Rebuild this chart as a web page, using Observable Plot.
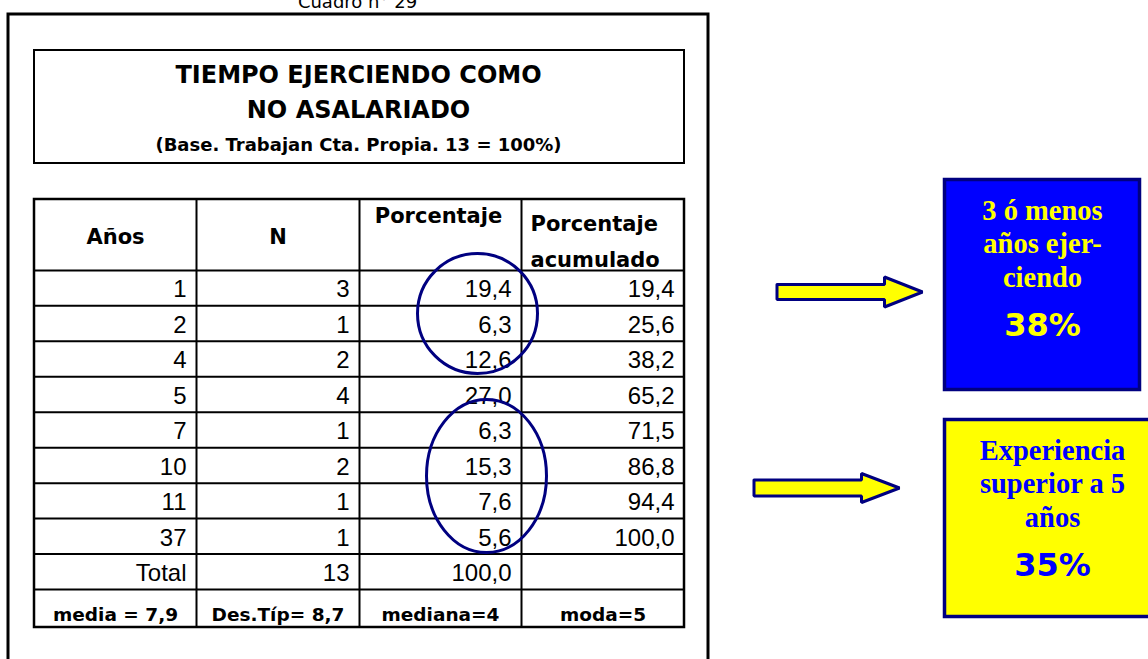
<!DOCTYPE html>
<html>
<head>
<meta charset="utf-8">
<script src="https://cdn.jsdelivr.net/npm/d3@7"></script>
<script src="https://cdn.jsdelivr.net/npm/@observablehq/plot@0.6"></script>
<style>
  html, body { margin: 0; padding: 0; background: #fff; overflow: hidden; }
  #chart svg { display: block; }
</style>
</head>
<body>
<div id="chart"></div>
<script>
// ---------------- DATA ----------------
const caption = "Cuadro n° 29";
const titleLines = ["TIEMPO EJERCIENDO COMO", "NO ASALARIADO"];
const subtitle = "(Base. Trabajan Cta. Propia. 13 = 100%)";
const headers = ["Años", "N", "Porcentaje", "Porcentaje\nacumulado"];
const years = ["1", "2", "4", "5", "7", "10", "11", "37"];
const counts = [3, 1, 2, 4, 1, 2, 1, 1];
const percents = [19.4, 6.3, 12.6, 27.0, 6.3, 15.3, 7.6, 5.6];
const cumulative = [19.4, 25.6, 38.2, 65.2, 71.5, 86.8, 94.4, 100.0];
const totalLabel = "Total";
const totalCount = 13;
const totalPercent = 100.0;
const stats = ["media = 7,9", "Des.Típ= 8,7", "mediana=4", "moda=5"];
const calloutLines = [["3 ó menos", "años ejer-", "ciendo"], ["Experiencia", "superior a 5", "años"]];
const calloutValues = ["38%", "35%"];

// ---------------- LAYOUT ----------------
const W = 1148, H = 659;
const colEdges = [34, 196, 359, 521, 684];
const rowY = d3.scaleLinear().domain([0, 11, 12]).range([199, 589, 627]); // header = 2 units
const frame = {x1: 8, x2: 708, y1: 14, y2: 720};
const titleBox = {x1: 34, x2: 684, y1: 50, y2: 163};
const titleX = 358;
const titleBaselines = [82, 117];
const subtitleBaseline = 150;
const captionPos = {x: 357, y: 7};
const headerLayout = [
  {x: (colEdges[0] + colEdges[1]) / 2, anchor: "middle", y: 243},
  {x: (colEdges[1] + colEdges[2]) / 2, anchor: "middle", y: 243},
  {x: 438, anchor: "middle", y: 222},
  {x: 530, anchor: "start", y: 266}
];
const boxes = [
  {x1: 944.5, x2: 1139.5, y1: 179.5, y2: 389.5, fill: "#0000ff", ink: "#ffff00", cx: 1042},
  {x1: 944.5, x2: 1170, y1: 419.5, y2: 616.5, fill: "#ffff00", ink: "#0000ff", cx: 1052}
];
const lineOffsets = [41, 74.5, 108.5];
const valueOffset = 157;
const arrows = [
  {tail: 776.5, base: 884, tip: 922, cy: 291.5, sh: 7.5, hh: 15},
  {tail: 753.5, base: 861, tip: 899, cy: 487.5, sh: 8, hh: 14.5}
];
const ellipses = [
  {cx: 477.5, cy: 313.5, rx: 60, ry: 60},
  {cx: 486.5, cy: 476, rx: 60, ry: 76.5}
];

const SANS = "'Liberation Sans', Arial, sans-serif";
const DV = "'DejaVu Sans', Verdana, sans-serif";
const SERIF = "'Liberation Serif', 'Times New Roman', serif";
const NAVY = "#000080";

// ---------------- DERIVED TABLES ----------------
const pct = v => v.toFixed(1).replace(".", ",");
const cells = [];
years.forEach((y, i) => {
  const u = 3 + i;
  cells.push({col: 0, u, text: y}, {col: 1, u, text: String(counts[i])},
             {col: 2, u, text: pct(percents[i])}, {col: 3, u, text: pct(cumulative[i])});
});
cells.push({col: 0, u: 11, text: totalLabel}, {col: 1, u: 11, text: String(totalCount)},
           {col: 2, u: 11, text: pct(totalPercent)});

const headerCells = headers.map((h, i) => ({text: h, ...headerLayout[i]}));
const statCells = stats.map((s, i) => ({text: s, x: (colEdges[i] + colEdges[i + 1]) / 2, y: rowY(12) - 7}));
const hLines = d3.range(2, 12).map(u => rowY(u));
const vLines = colEdges.slice(1, -1);

const arrowPts = arrows.flatMap((a, k) => {
  const pts = [[a.tail, a.cy - a.sh], [a.base, a.cy - a.sh], [a.base, a.cy - a.hh], [a.tip, a.cy],
               [a.base, a.cy + a.hh], [a.base, a.cy + a.sh], [a.tail, a.cy + a.sh], [a.tail, a.cy - a.sh]];
  return pts.map(([x, y]) => ({k, x, y}));
});

const calloutText = boxes.flatMap((b, k) => calloutLines[k].map((t, j) => ({
  text: t, x: b.cx, y: b.y1 - 1.5 + lineOffsets[j], ink: b.ink
})));
const calloutVal = boxes.map((b, k) => ({text: calloutValues[k], x: b.cx, y: b.y1 - 1.5 + valueOffset, ink: b.ink}));

const headerStyle = {x: "x", y: "y", text: "text", lineAnchor: "bottom", lineHeight: 1.71,
  fontSize: 21, fontWeight: "bold", fontFamily: DV, fill: "black"};

// ---------------- PLOT ----------------
const plot = Plot.plot({
  width: W, height: H, margin: 0,
  x: {domain: [0, W], range: [0, W], axis: null},
  y: {domain: [0, H], range: [0, H], axis: null},
  style: {background: "white", overflow: "hidden"},
  marks: [
    // outer frame
    Plot.rect([frame], {x1: "x1", x2: "x2", y1: "y1", y2: "y2", fill: "none", stroke: "black", strokeWidth: 3}),
    // title box
    Plot.rect([titleBox], {x1: "x1", x2: "x2", y1: "y1", y2: "y2", fill: "none", stroke: "black", strokeWidth: 2}),
    Plot.text([caption], {x: captionPos.x, y: captionPos.y, text: d => d, textAnchor: "middle", lineAnchor: "bottom",
      fontSize: 18, fontFamily: DV, fill: "black"}),
    Plot.text(titleLines, {x: titleX, y: (d, i) => titleBaselines[i], text: d => d, textAnchor: "middle",
      lineAnchor: "bottom", fontSize: 24, fontWeight: "bold", fontFamily: DV, fill: "black"}),
    Plot.text([subtitle], {x: titleX, y: subtitleBaseline, text: d => d, textAnchor: "middle", lineAnchor: "bottom",
      fontSize: 18, fontWeight: "bold", fontFamily: DV, fill: "black"}),
    // table grid
    Plot.ruleY(hLines, {y: d => d, x1: colEdges[0], x2: colEdges[4], stroke: "black", strokeWidth: 2}),
    Plot.ruleX(vLines, {x: d => d, y1: rowY(0), y2: rowY(12), stroke: "black", strokeWidth: 2}),
    Plot.rect([{x1: colEdges[0], x2: colEdges[4], y1: rowY(0), y2: rowY(12)}],
      {x1: "x1", x2: "x2", y1: "y1", y2: "y2", fill: "none", stroke: "black", strokeWidth: 2.5}),
    // headers
    Plot.text(headerCells, {...headerStyle, filter: d => d.anchor === "middle", textAnchor: "middle"}),
    Plot.text(headerCells, {...headerStyle, filter: d => d.anchor === "start", textAnchor: "start"}),
    // cells
    Plot.text(cells, {x: d => colEdges[d.col + 1] - 10, y: d => rowY(d.u) - 8.5, text: "text",
      textAnchor: "end", lineAnchor: "bottom", fontSize: 24, fontFamily: SANS, fill: "black"}),
    // stats row
    Plot.text(statCells, {x: "x", y: "y", text: "text", textAnchor: "middle", lineAnchor: "bottom",
      fontSize: 18.5, fontWeight: "bold", fontFamily: DV, fill: "black"}),
    // callout boxes
    Plot.rect(boxes, {x1: "x1", x2: "x2", y1: "y1", y2: "y2", fill: d => d.fill, stroke: NAVY, strokeWidth: 3.5}),
    Plot.text(calloutText, {x: "x", y: "y", text: "text", textAnchor: "middle", lineAnchor: "bottom",
      fontSize: 28.5, fontWeight: "bold", fontFamily: SERIF, fill: d => d.ink}),
    Plot.text(calloutVal, {x: "x", y: "y", text: "text", textAnchor: "middle", lineAnchor: "bottom",
      fontSize: 32, fontWeight: "bold", fontFamily: DV, fill: d => d.ink}),
    // arrows
    Plot.line(arrowPts, {x: "x", y: "y", z: "k", fill: "#ffff00", stroke: NAVY, strokeWidth: 3,
      strokeLinejoin: "miter", curve: "linear"})
  ]
});

// highlight ellipses drawn through the plot's scales
const sx = plot.scale("x"), sy = plot.scale("y");
d3.select(plot).append("g")
  .selectAll("ellipse").data(ellipses).join("ellipse")
  .attr("cx", d => sx.apply(d.cx)).attr("cy", d => sy.apply(d.cy))
  .attr("rx", d => sx.apply(d.cx + d.rx) - sx.apply(d.cx))
  .attr("ry", d => sy.apply(d.cy + d.ry) - sy.apply(d.cy))
  .attr("fill", "none").attr("stroke", NAVY).attr("stroke-width", 3);

document.getElementById("chart").append(plot);
</script>
</body>
</html>
